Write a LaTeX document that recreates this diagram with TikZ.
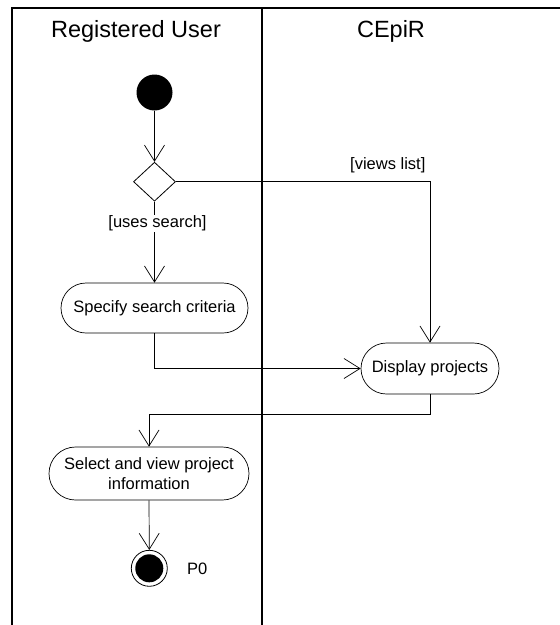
\documentclass[tikz,border=0pt]{standalone}
\usepackage{fontspec}
\setmainfont{Liberation Sans}
\usetikzlibrary{arrows.meta,shapes.misc,shapes.geometric}
\begin{document}
\begin{tikzpicture}[x=1pt,y=-1pt,
  lane/.style={line width=1.4pt},
  title/.style={font=\fontsize{23.5}{28}\selectfont},
  act/.style={draw,rounded rectangle,line width=0.7pt,inner sep=0pt,
    font=\fontsize{16.5}{20}\selectfont,align=center},
  guard/.style={font=\fontsize{16.5}{20}\selectfont,inner sep=1pt},
  flow/.style={line width=0.7pt,-{Straight Barb[length=16pt,width=20pt,line width=0.7pt]}},
  wire/.style={line width=0.7pt}]
\useasboundingbox (0,0) rectangle (560,625);

% swimlanes
\draw[lane] (12,625) -- (12,8) -- (560,8);
\draw[lane] (262,8) -- (262,625);
\node[title] (laneA) at (136,31) {Registered User};
\node[title] (laneB) at (391,31) {CEpiR};

% nodes
\node[circle,fill=black,minimum size=36pt,inner sep=0pt] (start) at (154.5,92.5) {};
\node[diamond,draw,line width=0.8pt,minimum width=42pt,minimum height=39pt,inner sep=0pt] (dec) at (154.5,181.7) {};
\node[act,minimum width=187pt,minimum height=50pt] (spec) at (154.5,308) {Specify search criteria};
\node[act,minimum width=138pt,minimum height=51pt] (disp) at (430,368.5) {Display projects};
\node[act,minimum width=200pt,minimum height=53pt] (sel) at (149,473.5) {Select and view project\\information};
\node[circle,draw,line width=0.8pt,minimum size=36pt,inner sep=0pt] (stop) at (149.3,568.3) {};
\fill (stop.center) circle (14pt);
\node[guard,anchor=west] (p0) at (186,569) {P0};

% flows
\draw[flow] (start) -- (dec);
\draw[flow] (dec.east) -| node[guard,pos=0.417,above=7pt] (gl) {[views list]} (disp.north);
\draw[flow] (dec.south) -- node[guard,pos=0.27,fill=white,xshift=3pt] (gs) {[uses search]} (spec.north);
\draw[flow] (spec.south) |- (disp.west);
\coordinate (turn) at (430,414.5);
\draw[flow] (disp.south) -- (turn) -| (sel.north);
\draw[flow] (sel.south) -- (stop.north);
\end{tikzpicture}
\end{document}
